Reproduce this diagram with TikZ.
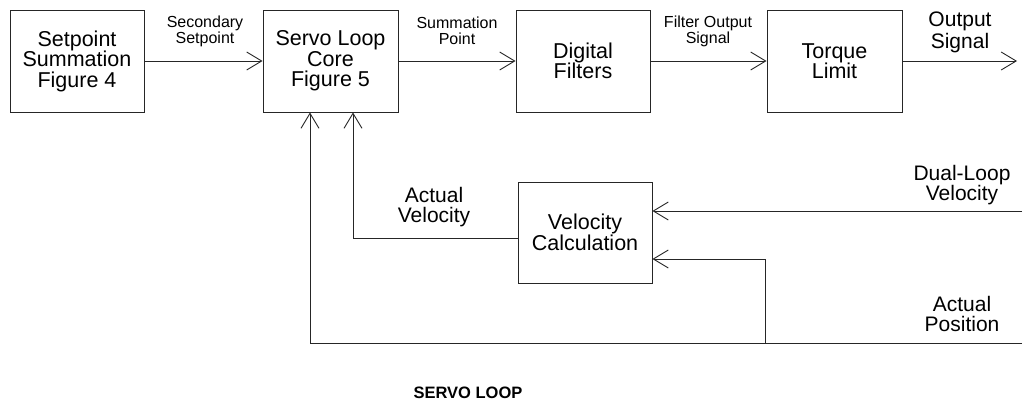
\documentclass[tikz,border=0pt]{standalone}
\usepackage{fontspec}
\setmainfont{Liberation Sans}
\usetikzlibrary{arrows.meta}
\begin{document}
\begin{tikzpicture}[x=1pt,y=-1pt,
  line width=0.9pt,
  blk/.style={draw=black!85, rectangle, inner sep=0pt, align=center,
    font=\fontsize{21.5}{20.5}\selectfont},
  lbl/.style={align=center, inner sep=0pt, font=\fontsize{16}{16}\selectfont},
  biglbl/.style={align=center, inner sep=0pt, font=\fontsize{21}{20.5}\selectfont},
  arr/.style={draw=black!85, -{Straight Barb[length=15pt,width=18pt,line width=0.9pt]}},
  wire/.style={draw=black!85}]
\useasboundingbox (0,0) rectangle (1025,402);

% main blocks
\node[blk, minimum width=134pt, minimum height=102pt] (sp) at (77,61)
  {Setpoint\\Summation\\Figure 4};
\node[blk, minimum width=135pt, minimum height=102pt] (core) at (330.5,61)
  {Servo Loop\\Core\\Figure 5};
\node[blk, minimum width=134pt, minimum height=102pt] (df) at (583,61)
  {Digital\\Filters};
\node[blk, minimum width=135pt, minimum height=102pt] (tl) at (834.5,61)
  {Torque\\Limit};
\node[blk, minimum width=134pt, minimum height=101pt] (vc) at (585,232.5)
  {Velocity\\Calculation};

% free ends and corners
\coordinate (out) at (1017,61);
\coordinate (dl) at (1022,211);
\coordinate (ap) at (1022,343);
\coordinate (apL) at (310,343);
\coordinate (br) at (765,343);
\coordinate (brU) at (765,259);
\coordinate (av) at (353,238);

% forward path
\draw[arr] (sp.east) -- (core.west);
\draw[arr] (core.east) -- (df.west);
\draw[arr] (df.east) -- (tl.west);
\draw[arr] (tl.east) -- (out);

% feedback paths
\draw[arr] (dl) -- (dl -| vc.east);
\draw[arr] (ap) -- (apL) -- (apL |- core.south);
\draw[arr] (br) -- (brU) -- (brU -| vc.east);
\draw[arr] (av -| vc.west) -- (av) -- (av |- core.south);

% signal labels
\node[lbl] (l1) at (205,31) {Secondary\\Setpoint};
\node[lbl] (l2) at (457,31) {Summation\\Point};
\node[lbl] (l3) at (708,31) {Filter Output\\Signal};
\node[biglbl, font=\fontsize{21}{22}\selectfont] (l4) at (960,32) {Output\\Signal};
\node[biglbl] (l5) at (434,207) {Actual\\Velocity};
\node[biglbl] (l6) at (962,185) {Dual-Loop\\Velocity};
\node[biglbl] (l7) at (962,314) {Actual\\Position};

% caption
\node[inner sep=0pt, font=\fontsize{16.5}{18}\selectfont\bfseries] (cap) at (468,393)
  {SERVO LOOP};
\end{tikzpicture}
\end{document}
